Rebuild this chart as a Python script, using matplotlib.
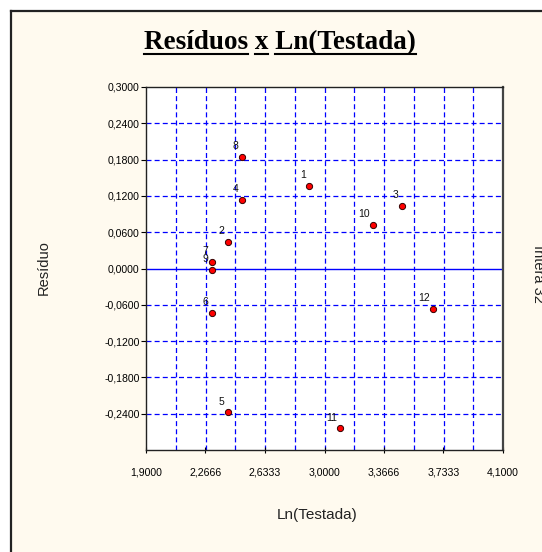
import matplotlib
matplotlib.use("Agg")
import matplotlib.pyplot as plt
import numpy as np
from matplotlib.patches import Rectangle
from matplotlib.lines import Line2D
from matplotlib.font_manager import FontProperties

# ---- data ----
point_labels = ["1", "2", "3", "4", "5", "6", "7", "8", "9", "10", "11", "12"]
x_vals = [2.906, 2.403, 3.478, 2.490, 2.403, 2.305, 2.305, 2.490, 2.305, 3.301, 3.096, 3.670]
y_vals = [0.137, 0.044, 0.104, 0.114, -0.238, -0.073, 0.011, 0.185, -0.002, 0.072, -0.264, -0.067]

x_ticks = [1.9, 2.26666, 2.63333, 3.0, 3.36666, 3.73333, 4.1]
x_ticklabels = ["1,9000", "2,2666", "2,6333", "3,0000", "3,3666", "3,7333", "4,1000"]
y_ticks = [0.30, 0.24, 0.18, 0.12, 0.06, 0.0, -0.06, -0.12, -0.18, -0.24]
y_ticklabels = ["0,3000", "0,2400", "0,1800", "0,1200", "0,0600", "0,0000",
                "-0,0600", "-0,1200", "-0,1800", "-0,2400"]

title = "Resíduos x Ln(Testada)"
xlabel = "Ln(Testada)"
ylabel = "Resíduo"
side_text = "Intera 32"

W, H = 542, 552
DPI = 100
fig = plt.figure(figsize=(W / DPI, H / DPI), dpi=DPI, facecolor="white")

cream = "#FFFAEF"
# cream panel with border on top/left
fig.patches.append(Rectangle((10 / W, 0), 1, 1 - 10 / H, transform=fig.transFigure,
                             facecolor=cream, edgecolor="none", zorder=-10))
fig.lines.append(Line2D([11 / W, 1], [1 - 11 / H, 1 - 11 / H], transform=fig.transFigure,
                        color="#222222", lw=1.6, zorder=-5))
fig.lines.append(Line2D([11 / W, 11 / W], [0, 1 - 11 / H], transform=fig.transFigure,
                        color="#222222", lw=1.6, zorder=-5))

left, right, top, bottom = 146, 503, 87, 450
ax = fig.add_axes([left / W, 1 - bottom / H, (right - left) / W, (bottom - top) / H])
ax.set_zorder(2)
ax.set_facecolor("white")
ax.set_xlim(1.9, 4.1)
ax.set_ylim(-0.3, 0.3)

# grid lines
xgrid = np.linspace(1.9, 4.1, 13)[1:-1]
for xv in xgrid:
    ax.axvline(xv, color="#0000FF", lw=0.9, ls=(0, (4, 2.5)), zorder=1)
for yv in y_ticks:
    if yv == 0.0:
        ax.axhline(yv, color="#0000FF", lw=1.0, zorder=1)
    elif -0.3 < yv < 0.3:
        ax.axhline(yv, color="#0000FF", lw=0.9, ls=(0, (4, 2.5)), zorder=1)

tick_font = FontProperties(family="Liberation Sans", size=7.6)
ax.set_xticks(x_ticks)
ax.set_xticklabels(x_ticklabels, fontproperties=tick_font)
ax.set_yticks(y_ticks)
ax.set_yticklabels(y_ticklabels, fontproperties=tick_font)
ax.tick_params(axis="x", direction="inout", length=5, width=0.8, pad=10, colors="black")
ax.tick_params(axis="y", direction="out", length=3.5, width=0.8, pad=1, colors="black")
for s in ax.spines.values():
    s.set_color("#222222")
    s.set_linewidth(1.0)
ax.spines["right"].set_linewidth(1.6)
ax.spines["right"].set_color("#444444")

ax.scatter(x_vals, y_vals, s=20, marker="o", facecolor="#FF0000", edgecolor="#330000",
           linewidths=0.7, zorder=3)
for xv, yv, lab in zip(x_vals, y_vals, point_labels):
    ax.annotate(lab, (xv, yv), xytext=(-2.4, 4.0), textcoords="offset points",
                ha="right", va="bottom", fontsize=7.5, family="Liberation Sans",
                color="#111111", zorder=4)

# axis labels
fig.text(317 / W, 1 - 515 / H, xlabel, ha="center", va="center",
         fontsize=11, family="Liberation Sans", color="#222222")
fig.text(44 / W, 1 - 268 / H, ylabel, ha="center", va="center", rotation=90,
         fontsize=10.5, family="Liberation Sans", color="#222222")
fig.text(531 / W, 1 - 245 / H, side_text, ha="left", va="top", rotation=-90,
         fontsize=10.5, family="Liberation Sans", color="#222222")

# title with underlined words
tprop = FontProperties(family="Liberation Serif", weight="bold", size=19.5)
tx, ty = 280 / W, 1 - 49 / H
t = fig.text(tx, ty, title, ha="center", va="baseline", fontproperties=tprop, color="black")
fig.canvas.draw()
renderer = fig.canvas.get_renderer()
full_w, _, _ = renderer.get_text_width_height_descent(title, tprop, ismath=False)
x0 = tx * W - full_w / 2
pos = 0
for word in title.split(" "):
    start = title.index(word, pos)
    end = start + len(word)
    pos = end
    w_pre = renderer.get_text_width_height_descent(title[:start], tprop, ismath=False)[0] if start > 0 else 0
    w_end = renderer.get_text_width_height_descent(title[:end], tprop, ismath=False)[0]
    uy = (ty * H - 5) / H
    fig.lines.append(Line2D([(x0 + w_pre) / W, (x0 + w_end) / W], [uy, uy],
                            transform=fig.transFigure, color="black", lw=1.5))

fig.savefig("out.png", dpi=DPI, facecolor="white")
